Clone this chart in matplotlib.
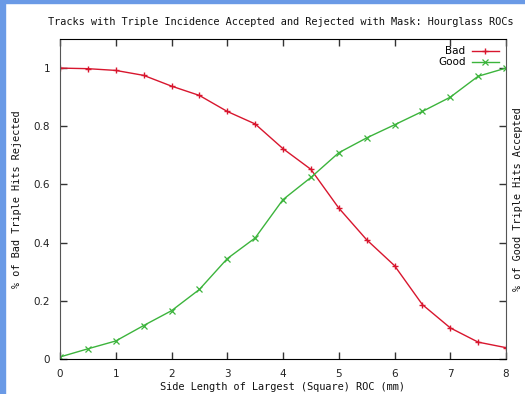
import matplotlib
matplotlib.use("Agg")
import matplotlib.pyplot as plt
from matplotlib.patches import Rectangle
import numpy

# side length of largest (square) ROC, mm
side_length = [0, 0.5, 1, 1.5, 2, 2.5, 3, 3.5, 4, 4.5, 5, 5.5, 6, 6.5, 7, 7.5, 8]
# fraction of bad triple hits rejected
bad = [1.0, 0.998, 0.992, 0.975, 0.938, 0.906, 0.851, 0.808, 0.723, 0.652,
       0.519, 0.41, 0.321, 0.187, 0.107, 0.058, 0.039]
# fraction of good triple hits accepted
good = [0.007, 0.035, 0.062, 0.115, 0.166, 0.239, 0.345, 0.416, 0.548, 0.624,
        0.709, 0.76, 0.805, 0.851, 0.9, 0.972, 1.0]

title = "Tracks with Triple Incidence Accepted and Rejected with Mask: Hourglass ROCs"
mono = "DejaVu Sans Mono"

fig = plt.figure(figsize=(5.25, 3.94), dpi=100)
ax = fig.add_axes([60 / 525, 35 / 394, 446 / 525, 320 / 394])

ax.plot(side_length, bad, color="#d8162e", lw=1.0, marker="+", ms=5, mew=1.0, label="Bad")
ax.plot(side_length, good, color="#3cb43c", lw=1.0, marker="x", ms=4, mew=0.9, label="Good")

ax.set_xlim(0, 8)
ax.set_ylim(0, 1.1)
ax.set_xticks(numpy.arange(0, 9, 1))
ax.set_yticks([0, 0.2, 0.4, 0.6, 0.8, 1.0])
ax.set_yticklabels(["0", "0.2", "0.4", "0.6", "0.8", "1"])
ax.tick_params(direction="in", length=5, width=1, color="#333333",
               top=True, right=True, labelsize=7.5, labelcolor="#222222")
ax.tick_params(axis="y", pad=7)
ax.tick_params(axis="x", pad=7)
for side in ["left", "right"]:
    ax.spines[side].set_color("#555555")
for side in ["top", "bottom"]:
    ax.spines[side].set_color("#000000")

leg = ax.legend(loc="upper right", frameon=False, markerfirst=False,
                fontsize=7.5, handlelength=2.6, handletextpad=0.6,
                borderaxespad=0.3, labelspacing=0.1)

fig.text(281 / 525, 1 - 22 / 394, title, ha="center", va="center",
         family=mono, fontsize=7.4, color="#111111")
fig.text(283 / 525, 1 - 387 / 394, "Side Length of Largest (Square) ROC (mm)",
         ha="center", va="center", family=mono, fontsize=7.4, color="#111111")
fig.text(17 / 525, 1 - 199 / 394, "% of Bad Triple Hits Rejected", rotation=90,
         ha="center", va="center", family=mono, fontsize=7.4, color="#111111")
fig.text(518 / 525, 1 - 199 / 394, "% of Good Triple Hits Accepted", rotation=90,
         ha="center", va="center", family=mono, fontsize=7.4, color="#111111")

# blue frame strips from the screenshot
fig.add_artist(Rectangle((0, 0), 5 / 525, 1, transform=fig.transFigure,
                         color="#6a9ae6", zorder=10))
fig.add_artist(Rectangle((0, 1 - 3 / 394), 1, 3 / 394, transform=fig.transFigure,
                         color="#6a9ae6", zorder=10))

fig.savefig("out.png", dpi=100)
plt.close()
